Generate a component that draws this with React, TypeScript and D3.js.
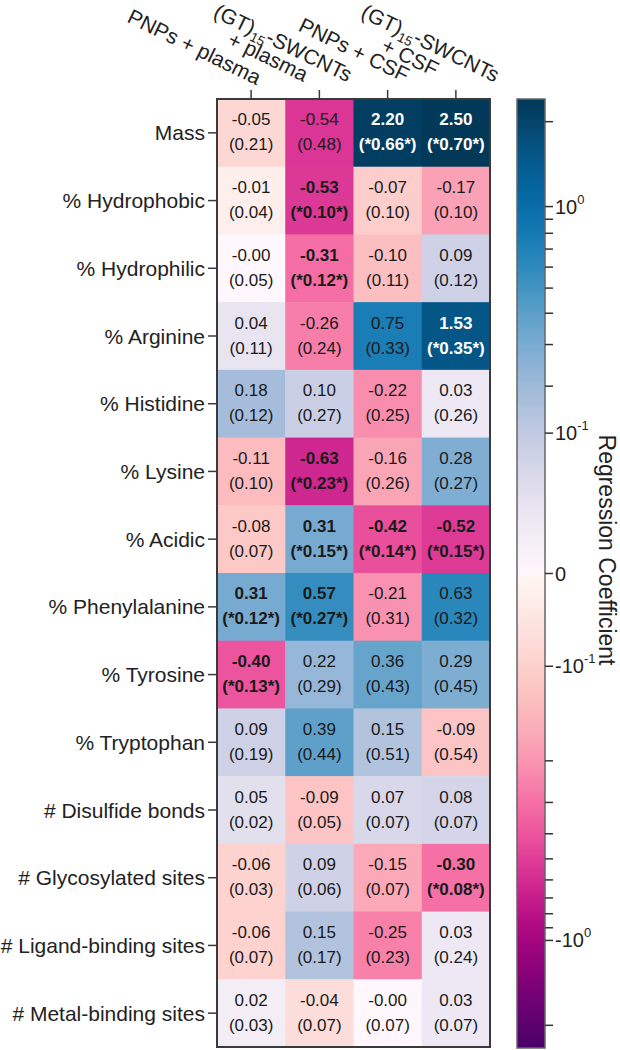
import React from "react";
import * as d3 from "d3";

// ---------- data ----------
const rowLabels = [
  "Mass",
  "% Hydrophobic",
  "% Hydrophilic",
  "% Arginine",
  "% Histidine",
  "% Lysine",
  "% Acidic",
  "% Phenylalanine",
  "% Tyrosine",
  "% Tryptophan",
  "# Disulfide bonds",
  "# Glycosylated sites",
  "# Ligand-binding sites",
  "# Metal-binding sites",
];

const columnKeys = ["pnpPlasma", "gtPlasma", "pnpCsf", "gtCsf"];

// header text: line1 = prefix + subscript + suffix, line2 optional
const headerLine1 = [
  { pre: "PNPs + plasma", sub: "", post: "" },
  { pre: "(GT)", sub: "15", post: "-SWCNTs" },
  { pre: "PNPs + CSF", sub: "", post: "" },
  { pre: "(GT)", sub: "15", post: "-SWCNTs" },
];
const headerLine2 = ["", "+ plasma", "", "+ CSF"];

// coefficients [row][col]
const coefficients = [
  [-0.05, -0.54, 2.2, 2.5],
  [-0.01, -0.53, -0.07, -0.17],
  [-0, -0.31, -0.1, 0.09],
  [0.04, -0.26, 0.75, 1.53],
  [0.18, 0.1, -0.22, 0.03],
  [-0.11, -0.63, -0.16, 0.28],
  [-0.08, 0.31, -0.42, -0.52],
  [0.31, 0.57, -0.21, 0.63],
  [-0.4, 0.22, 0.36, 0.29],
  [0.09, 0.39, 0.15, -0.09],
  [0.05, -0.09, 0.07, 0.08],
  [-0.06, 0.09, -0.15, -0.3],
  [-0.06, 0.15, -0.25, 0.03],
  [0.02, -0.04, -0, 0.03],
];

// standard errors [row][col]
const stdErrors = [
  [0.21, 0.48, 0.66, 0.7],
  [0.04, 0.1, 0.1, 0.1],
  [0.05, 0.12, 0.11, 0.12],
  [0.11, 0.24, 0.33, 0.35],
  [0.12, 0.27, 0.25, 0.26],
  [0.1, 0.23, 0.26, 0.27],
  [0.07, 0.15, 0.14, 0.15],
  [0.12, 0.27, 0.31, 0.32],
  [0.13, 0.29, 0.43, 0.45],
  [0.19, 0.44, 0.51, 0.54],
  [0.02, 0.05, 0.07, 0.07],
  [0.03, 0.06, 0.07, 0.08],
  [0.07, 0.17, 0.23, 0.24],
  [0.03, 0.07, 0.07, 0.07],
];

// significance flags [row][col]
const significant = [
  [0, 0, 1, 1],
  [0, 1, 0, 0],
  [0, 1, 0, 0],
  [0, 0, 0, 1],
  [0, 0, 0, 0],
  [0, 1, 0, 0],
  [0, 1, 1, 1],
  [1, 1, 0, 0],
  [1, 0, 0, 0],
  [0, 0, 0, 0],
  [0, 0, 0, 0],
  [0, 0, 0, 1],
  [0, 0, 0, 0],
  [0, 0, 0, 0],
];

const colorDomain = [-2.4, 2.4];
const symlogConstant = 0.06;

const majorTicks = [
  { v: 1, base: "10", exp: "0" },
  { v: 0.12, base: "10", exp: "-1" },
  { v: 0, base: "0", exp: "" },
  { v: -0.064, base: "-10", exp: "-1" },
  { v: -1, base: "-10", exp: "0" },
];
const minorTicks = [
  2, 0.9, 0.8, 0.7, 0.6, 0.5, 0.4, 0.3, 0.2,
  -0.2, -0.3, -0.4, -0.5, -0.6, -0.7, -0.8, -0.9, -2,
];

// ---------- layout ----------
const W = 620;
const H = 1050;
const hmLeft = 217;
const hmRight = 490;
const hmTop = 99;
const hmBottom = 1047;
const cbLeft = 517;
const cbWidth = 28;
const cbTop = 99;
const cbBottom = 1048;
const FONT = "'Liberation Sans', Arial, Helvetica, sans-serif";
const HEADER_ANGLE = 26;
// header line placement in the rotated frame (start of baseline)
const headerPlace = [
  { u1: -143, v1: -7.5, u2: 0, v2: 0 },
  { u1: -129, v1: -20, u2: -104, v2: -1 },
  { u1: -108, v1: -15, u2: 0, v2: 0 },
  { u1: -119, v1: -24.5, u2: -86, v2: -3 },
];

const fmt = (v: number) =>
  (v < 0 || Object.is(v, -0) ? "-" : "") + Math.abs(v).toFixed(2);

export default function App() {
  const x = d3.scaleBand<string>().domain(columnKeys).range([hmLeft, hmRight]);
  const y = d3.scaleBand<string>().domain(rowLabels).range([hmTop, hmBottom]);
  const norm = d3
    .scaleSymlog()
    .constant(symlogConstant)
    .domain(colorDomain)
    .range([-1, 1])
    .clamp(true);
  const cbY = d3
    .scaleSymlog()
    .constant(symlogConstant)
    .domain(colorDomain)
    .range([cbBottom, cbTop])
    .clamp(true);
  const colorOf = (v: number) => {
    const n = norm(v);
    return n >= 0 ? d3.interpolatePuBu(n) : d3.interpolateRdPu(-n);
  };

  const stops = d3.range(0, 201).map((i) => {
    const yy = cbTop + ((cbBottom - cbTop) * i) / 200;
    const v = cbY.invert(yy);
    return { off: i / 200, color: colorOf(v) };
  });

  const bw = x.bandwidth();
  const bh = y.bandwidth();

  return (
    <svg
      width={W}
      height={H}
      style={{ position: "absolute", left: 0, top: 0, background: "#fff" }}
      fontFamily={FONT}
    >
      <defs>
        <linearGradient id="cbGrad" x1="0" y1="0" x2="0" y2="1">
          {stops.map((s, i) => (
            <stop key={i} offset={s.off} stopColor={s.color} />
          ))}
        </linearGradient>
      </defs>

      {/* cells */}
      {rowLabels.map((r, ri) =>
        columnKeys.map((c, ci) => {
          const v = coefficients[ri][ci];
          const se = stdErrors[ri][ci];
          const sig = significant[ri][ci] === 1;
          const n = Math.abs(norm(v));
          const tc = n > 0.8 ? "#ffffff" : "#1a1a1a";
          const cx = (x(c) as number) + bw / 2;
          const cy = (y(r) as number) + bh / 2;
          return (
            <g key={r + c}>
              <rect
                x={x(c)}
                y={y(r)}
                width={bw + 0.5}
                height={bh + 0.5}
                fill={colorOf(v)}
              />
              <text
                x={cx}
                y={cy - 13}
                textAnchor="middle"
                dominantBaseline="central"
                fontSize={17}
                fontWeight={sig ? "bold" : "normal"}
                fill={tc}
              >
                {fmt(v)}
              </text>
              <text
                x={cx}
                y={cy + 12}
                textAnchor="middle"
                dominantBaseline="central"
                fontSize={17}
                fontWeight={sig ? "bold" : "normal"}
                fill={tc}
              >
                {sig ? `(*${se.toFixed(2)}*)` : `(${se.toFixed(2)})`}
              </text>
            </g>
          );
        })
      )}

      {/* heatmap border */}
      <rect
        x={hmLeft}
        y={hmTop}
        width={hmRight - hmLeft}
        height={hmBottom - hmTop}
        fill="none"
        stroke="#3a3a3a"
        strokeWidth={2}
      />

      {/* row ticks & labels */}
      {rowLabels.map((r) => {
        const cy = (y(r) as number) + bh / 2;
        return (
          <g key={r}>
            <line x1={hmLeft - 9} x2={hmLeft} y1={cy} y2={cy} stroke="#3a3a3a" strokeWidth={1.5} />
            <text
              x={hmLeft - 12}
              y={cy}
              textAnchor="end"
              dominantBaseline="central"
              fontSize={21}
              fill="#222"
            >
              {r}
            </text>
          </g>
        );
      })}

      {/* column ticks & headers */}
      {columnKeys.map((c, ci) => {
        const cx = (x(c) as number) + bw / 2;
        const h1 = headerLine1[ci];
        const p = headerPlace[ci];
        return (
          <g key={c}>
            <line x1={cx} x2={cx} y1={hmTop - 9} y2={hmTop} stroke="#3a3a3a" strokeWidth={1.5} />
            <g transform={`translate(${cx},${hmTop - 8}) rotate(${HEADER_ANGLE})`}>
              <text x={p.u1} y={p.v1} fontSize={21} fill="#222">
                {h1.pre}
                {h1.sub && (
                  <>
                    <tspan fontSize={13.5} dy={5}>
                      {h1.sub}
                    </tspan>
                    <tspan dy={-5}>{h1.post}</tspan>
                  </>
                )}
              </text>
              {headerLine2[ci] && (
                <text x={p.u2} y={p.v2} fontSize={21} fill="#222">
                  {headerLine2[ci]}
                </text>
              )}
            </g>
          </g>
        );
      })}

      {/* colorbar */}
      <rect
        x={cbLeft}
        y={cbTop}
        width={cbWidth}
        height={cbBottom - cbTop}
        fill="url(#cbGrad)"
        stroke="#666"
        strokeWidth={1.5}
      />
      {minorTicks.map((v) => (
        <line
          key={"m" + v}
          x1={cbLeft + cbWidth}
          x2={cbLeft + cbWidth + 8}
          y1={cbY(v)}
          y2={cbY(v)}
          stroke="#333"
          strokeWidth={1.5}
        />
      ))}
      {majorTicks.map((t) => (
        <g key={"M" + t.v}>
          <line
            x1={cbLeft + cbWidth}
            x2={cbLeft + cbWidth + 8}
            y1={cbY(t.v)}
            y2={cbY(t.v)}
            stroke="#333"
            strokeWidth={1.5}
          />
          <text
            x={cbLeft + cbWidth + 10}
            y={cbY(t.v)}
            dominantBaseline="central"
            fontSize={20}
            fill="#222"
          >
            {t.base}
            {t.exp && (
              <tspan fontSize={13} dy={-8}>
                {t.exp}
              </tspan>
            )}
          </text>
        </g>
      ))}
      <text
        transform={`translate(${607},${550}) rotate(90)`}
        textAnchor="middle"
        dominantBaseline="central"
        fontSize={23}
        fill="#222"
      >
        Regression Coefficient
      </text>
    </svg>
  );
}
